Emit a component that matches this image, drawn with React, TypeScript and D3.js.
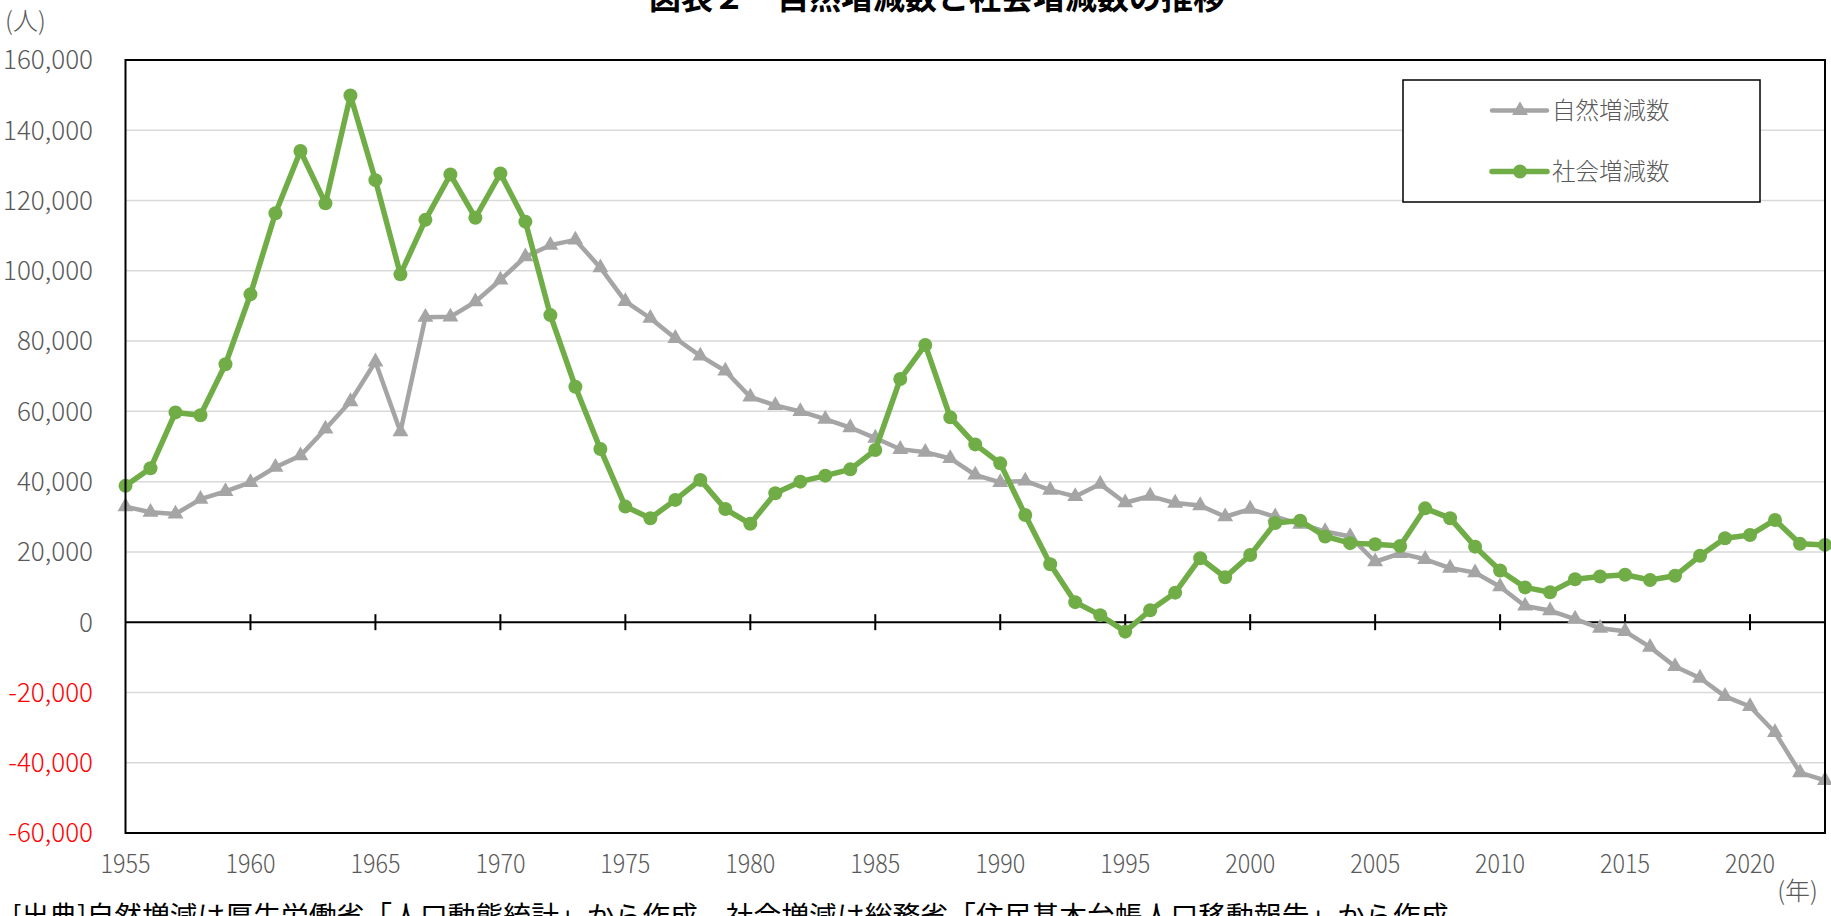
import * as d3 from "d3";
import React, {useEffect, useRef} from "react";

const years = [
  1955, 1956, 1957, 1958, 1959, 1960, 1961, 1962, 1963, 1964,
  1965, 1966, 1967, 1968, 1969, 1970, 1971, 1972, 1973, 1974,
  1975, 1976, 1977, 1978, 1979, 1980, 1981, 1982, 1983, 1984,
  1985, 1986, 1987, 1988, 1989, 1990, 1991, 1992, 1993, 1994,
  1995, 1996, 1997, 1998, 1999, 2000, 2001, 2002, 2003, 2004,
  2005, 2006, 2007, 2008, 2009, 2010, 2011, 2012, 2013, 2014,
  2015, 2016, 2017, 2018, 2019, 2020, 2021, 2022, 2023,
];

// 自然増減数
const naturalChange = [
  32900, 31300, 30800, 35000, 37200, 39800, 44100, 47400, 55000, 62800,
  74100, 54200, 86800, 86900, 91200, 97400, 104000, 107300, 108800, 100900,
  91300, 86500, 80800, 75800, 71500, 64100, 61700, 60000, 57800, 55400,
  52400, 49200, 48400, 46600, 41900, 39800, 40200, 37600, 35800, 39300,
  34000, 35900, 33900, 33200, 30000, 32200, 30000, 27900, 25800, 24400,
  17200, 19600, 17900, 15400, 14100, 10100, 4600, 3300, 900, -1700,
  -2600, -7100, -12600, -15900, -21100, -24000, -31400, -42800, -45000,
];

// 社会増減数
const socialChange = [
  38800, 43800, 59700, 58900, 73400, 93300, 116400, 134100, 119200, 149900,
  125800, 99000, 114500, 127400, 115100, 127700, 114000, 87400, 67000, 49300,
  32900, 29600, 34800, 40500, 32200, 28000, 36700, 40000, 41700, 43500,
  49000, 69200, 78900, 58300, 50600, 45200, 30500, 16500, 5700, 2000,
  -2700, 3400, 8400, 18200, 12800, 19100, 28200, 28900, 24400, 22500,
  22200, 21700, 32400, 29600, 21500, 14700, 9900, 8500, 12200, 13000,
  13500, 12000, 13200, 18900, 23900, 24800, 29100, 22300, 22000,
];

const yTicks = [-60000, -40000, -20000, 0, 20000, 40000, 60000, 80000, 100000, 120000, 140000, 160000];
const xTickYears = [1955, 1960, 1965, 1970, 1975, 1980, 1985, 1990, 1995, 2000, 2005, 2010, 2015, 2020];

const seriesNames = ['自然増減数', '社会増減数'];
const title = '図表２　自然増減数と社会増減数の推移';
const sourceNote = '[出典]自然増減は厚生労働省「人口動態統計」から作成、社会増減は総務省「住民基本台帳人口移動報告」から作成';

const FONT = "'Noto Sans CJK JP', 'Noto Sans', sans-serif";
const GRAY = '#a5a5a5';
const GREEN = '#70ad47';
const LABEL = '#595959';

const App: React.FC = () => {
  const ref = useRef<SVGSVGElement | null>(null);

  useEffect(() => {
    const svg = d3.select(ref.current);
    svg.selectAll('*').remove();

    const width = 1831;
    const height = 916;
    const plot = { left: 125.5, right: 1825, top: 60, bottom: 833 };

    const xScale = d3.scaleLinear().domain([1955, 2023]).range([plot.left, plot.right]);
    const yScale = d3.scaleLinear().domain([-60000, 160000]).range([plot.bottom, plot.top]);

    svg.attr('width', width).attr('height', height);

    // title (partly above the page, as in the original)
    svg.append('text')
      .attr('x', 937)
      .attr('y', 9)
      .attr('text-anchor', 'middle')
      .style('font-family', FONT)
      .style('font-size', '32px')
      .style('font-weight', '700')
      .attr('fill', '#000')
      .text(title);

    svg.append('text')
      .attr('x', 5)
      .attr('y', 30)
      .style('font-family', FONT)
      .style('font-size', '25px')
      .style('font-weight', '300')
      .attr('fill', LABEL)
      .text('(人)');

    // grid lines
    svg.append('g')
      .selectAll('line')
      .data(yTicks.filter((t) => t !== 0 && t !== -60000 && t !== 160000))
      .enter()
      .append('line')
      .attr('x1', plot.left)
      .attr('x2', plot.right)
      .attr('y1', (d) => yScale(d))
      .attr('y2', (d) => yScale(d))
      .attr('stroke', '#d9d9d9')
      .attr('stroke-width', 1.5);

    // y labels
    svg.append('g')
      .selectAll('text')
      .data(yTicks)
      .enter()
      .append('text')
      .attr('x', 93)
      .attr('y', (d) => yScale(d))
      .attr('dy', '0.36em')
      .attr('text-anchor', 'end')
      .style('font-family', FONT)
      .style('font-size', '26px')
      .style('font-weight', '300')
      .attr('fill', (d) => (d < 0 ? '#ff0000' : LABEL))
      .text((d) => d3.format(',')(d).replace('−', '-'));

    // x labels
    svg.append('g')
      .selectAll('text')
      .data(xTickYears)
      .enter()
      .append('text')
      .attr('x', (d) => xScale(d))
      .attr('y', 873)
      .attr('text-anchor', 'middle')
      .attr('textLength', 50)
      .attr('lengthAdjust', 'spacingAndGlyphs')
      .style('font-family', FONT)
      .style('font-size', '26px')
      .style('font-weight', '300')
      .attr('fill', LABEL)
      .text((d) => d);

    svg.append('text')
      .attr('x', 1818)
      .attr('y', 900)
      .attr('text-anchor', 'end')
      .style('font-family', FONT)
      .style('font-size', '25px')
      .style('font-weight', '300')
      .attr('fill', LABEL)
      .text('(年)');

    // zero axis + ticks
    svg.append('line')
      .attr('x1', plot.left)
      .attr('x2', plot.right)
      .attr('y1', yScale(0))
      .attr('y2', yScale(0))
      .attr('stroke', '#000')
      .attr('stroke-width', 2);

    svg.append('g')
      .selectAll('line')
      .data(xTickYears.filter((d) => d !== 1955))
      .enter()
      .append('line')
      .attr('x1', (d) => xScale(d))
      .attr('x2', (d) => xScale(d))
      .attr('y1', yScale(0) - 8)
      .attr('y2', yScale(0) + 8)
      .attr('stroke', '#000')
      .attr('stroke-width', 2);

    const line = d3.line<number>()
      .x((_, i) => xScale(years[i]))
      .y((d) => yScale(d));

    const triangle = d3.symbol().type(d3.symbolTriangle).size(110);

    // 自然増減数
    svg.append('path')
      .datum(naturalChange)
      .attr('d', line)
      .attr('fill', 'none')
      .attr('stroke', GRAY)
      .attr('stroke-width', 4.5)
      .attr('stroke-linejoin', 'round');

    svg.append('g')
      .selectAll('path')
      .data(naturalChange)
      .enter()
      .append('path')
      .attr('d', triangle)
      .attr('transform', (d, i) => `translate(${xScale(years[i])},${yScale(d)})`)
      .attr('fill', GRAY);

    // 社会増減数
    svg.append('path')
      .datum(socialChange)
      .attr('d', line)
      .attr('fill', 'none')
      .attr('stroke', GREEN)
      .attr('stroke-width', 5.5)
      .attr('stroke-linejoin', 'round');

    svg.append('g')
      .selectAll('circle')
      .data(socialChange)
      .enter()
      .append('circle')
      .attr('cx', (_, i) => xScale(years[i]))
      .attr('cy', (d) => yScale(d))
      .attr('r', 7)
      .attr('fill', GREEN);

    // plot border
    svg.append('rect')
      .attr('x', plot.left)
      .attr('y', plot.top)
      .attr('width', plot.right - plot.left)
      .attr('height', plot.bottom - plot.top)
      .attr('fill', 'none')
      .attr('stroke', '#000')
      .attr('stroke-width', 2);

    // legend
    const legend = svg.append('g');
    legend.append('rect')
      .attr('x', 1403)
      .attr('y', 80)
      .attr('width', 357)
      .attr('height', 122)
      .attr('fill', '#fff')
      .attr('stroke', '#000')
      .attr('stroke-width', 1.5);

    const legendRows = legend.selectAll('.legend-row')
      .data(seriesNames)
      .enter()
      .append('g')
      .attr('class', 'legend-row')
      .attr('transform', (_, i) => `translate(0, ${i === 0 ? 110.5 : 171.5})`);

    legendRows.append('line')
      .attr('x1', 1492)
      .attr('x2', 1547)
      .attr('stroke', (_, i) => (i === 0 ? GRAY : GREEN))
      .attr('stroke-width', (_, i) => (i === 0 ? 4.5 : 5.5))
      .attr('stroke-linecap', 'round');

    legendRows.append('path')
      .attr('d', (_, i) => (i === 0 ? triangle() : d3.symbol().type(d3.symbolCircle).size(154)()))
      .attr('transform', 'translate(1520,0)')
      .attr('fill', (_, i) => (i === 0 ? GRAY : GREEN));

    legendRows.append('text')
      .attr('x', 1552)
      .attr('dy', '0.36em')
      .style('font-family', FONT)
      .style('font-size', '23.5px')
      .style('font-weight', '300')
      .attr('fill', LABEL)
      .text((d) => d);

    // source note, cut off at the bottom of the page
    svg.append('text')
      .attr('x', 12)
      .attr('y', 926)
      .style('font-family', FONT)
      .style('font-size', '27.8px')
      .attr('fill', '#000')
      .text(sourceNote);

    return () => {
      svg.selectAll('*').remove();
    };
  }, []);

  return <svg ref={ref} style={{position: 'absolute', left: 0, top: 0, background: '#fff'}}/>;
};

export default App;
